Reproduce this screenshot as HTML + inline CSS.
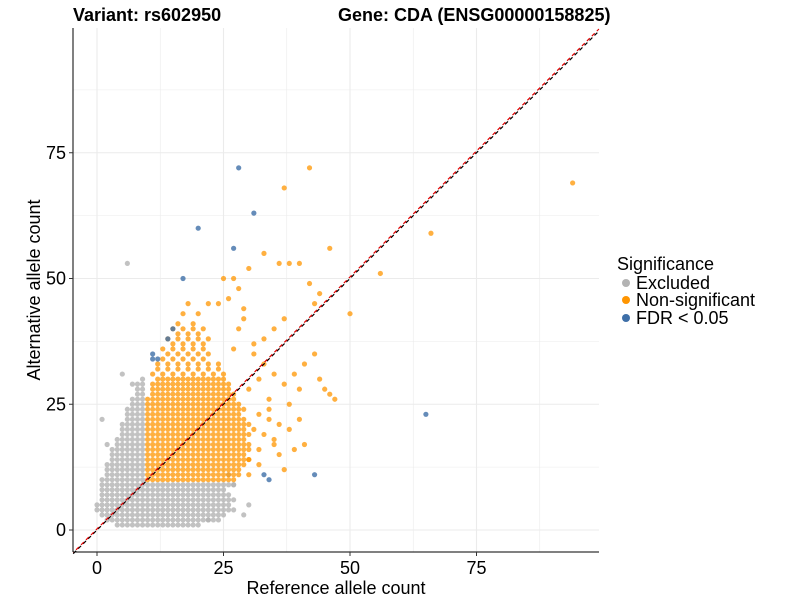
<!DOCTYPE html>
<html><head><meta charset="utf-8"><style>
body{margin:0;background:#fff;font-family:"Liberation Sans",Arial,sans-serif}
</style></head><body>
<svg id="c" width="800" height="600" style="font-family:'Liberation Sans',Arial,sans-serif">
<text x="73" y="21" font-size="18" font-weight="bold">Variant: rs602950</text>
<text x="338" y="21" font-size="18" font-weight="bold">Gene: CDA (ENSG00000158825)</text>
<g id="grid"></g>
<g id="pts"></g>
<g id="ax"></g>
<text x="336" y="594" font-size="18" text-anchor="middle">Reference allele count</text>
<text transform="translate(40,290) rotate(-90)" font-size="18" text-anchor="middle">Alternative allele count</text>
<g>
<text x="617" y="270" font-size="18">Significance</text>
<g><circle cx="626" cy="283" r="4" fill="#b3b3b3"/><text x="636" y="289" font-size="18">Excluded</text></g>
<g><circle cx="626" cy="300" r="4" fill="#ff9500"/><text x="636" y="306" font-size="18">Non-significant</text></g>
<g><circle cx="626" cy="318" r="4" fill="#3e6fa8"/><text x="636" y="324" font-size="18">FDR &lt; 0.05</text></g>
</g>
</svg>
<script>
const xTicks=[0,25,50,75];
const yTicks=[0,25,50,75];
// orange dense rows: alt value, ref lo, ref hi, step
const orangeAlt =[10,11,12,13,14,15,16,17,18,19,20,21,22,23,24,25,26,27,28,29,30,31,32,33,34,35,36,37,38,39,40,41,43,45];
const orangeLo  =[10,10,10,10,10,10,10,10,10,10,10,10,10,10,10,10,10,11,11,11,12,11,12,12,13,14,13,15,14,16,15,16,17,18];
const orangeHi  =[27,28,28,29,30,29,30,30,29,30,29,30,29,28,29,28,27,27,26,26,25,26,24,25,22,23,22,21,22,20,21,21,20,22];
const orangeStep=[1,1,1,1,1,1,1,1,1,1,1,1,1,1,1,1,1,1,1,1,1,2,2,2,2,2,2,2,2,2,2,3,3,4];
// grey dense rows
const greyAlt=[1,2,3,4,5,6,7,8,9,10,11,12,13,14,15,16,17,18,19,20,21,22,23,24,25,26,27,28,29,30];
const greyLo =[4,2,1,0,0,1,1,1,1,1,2,2,2,3,3,3,4,4,5,5,5,6,6,6,7,7,8,8,7,9];
const greyHi =[20,24,25,27,26,27,26,25,27,9,9,9,9,9,9,9,9,9,9,9,9,9,9,9,9,9,9,9,9,9];
// scattered points
const orangeX=[42,37,94,66,56,50,36,38,40,33,30,42,46,47,45,44,46,40,38,35,34,30,32,36,39,41,31,33,35,37,43,44,28,27,25,26,29,31,33,32,35,28,29,24,27,30,38,40,34,31,33,36,32,34,37,39,41,43,30,32,35,37];
const orangeY=[72,68,69,59,51,43,53,53,53,55,52,49,56,26,28,30,27,22,20,18,22,11,13,15,16,17,35,38,40,42,45,47,48,50,50,46,44,37,33,30,31,40,42,45,36,28,25,28,24,20,19,21,23,26,29,31,33,35,14,16,17,12];
const blueX=[28,31,20,27,17,15,14,11,11,12,65,43,33,34];
const blueY=[72,63,60,56,50,40,38,35,34,34,23,11,11,10];
const greyX=[6,30,29,1,2,5,27,26,22];
const greyY=[53,5,3,22,17,31,9,11,2];

const X=v=>97+v*5.06, Y=v=>530-v*5.03;
const NS="http://www.w3.org/2000/svg";
const g=document.getElementById('grid'),p=document.getElementById('pts'),ax=document.getElementById('ax');
function line(par,x1,y1,x2,y2,st,w,dash){const l=document.createElementNS(NS,'line');l.setAttribute('x1',x1);l.setAttribute('y1',y1);l.setAttribute('x2',x2);l.setAttribute('y2',y2);l.setAttribute('stroke',st);l.setAttribute('stroke-width',w);if(dash)l.setAttribute('stroke-dasharray',dash);par.appendChild(l);return l;}
[-12.5,0,12.5,25,37.5,50,62.5,75,87.5].forEach(v=>{
 if(X(v)>73&&X(v)<599){const l=line(g,X(v),28,X(v),552,'#ebebeb',v%25?0.6:1.1);}
 if(Y(v)>28&&Y(v)<552){const l=line(g,73,Y(v),599,Y(v),'#ebebeb',v%25?0.6:1.1);}
});
function dot(x,y,c,o){const e=document.createElementNS(NS,'circle');e.setAttribute('cx',X(x));e.setAttribute('cy',Y(y));e.setAttribute('r',2.6);e.setAttribute('fill',c);e.setAttribute('fill-opacity',o);


p.appendChild(e);}
greyAlt.forEach((a,i)=>{for(let r=greyLo[i];r<=greyHi[i];r++)dot(r,a,'#b3b3b3',0.8);});
greyX.forEach((x,i)=>dot(x,greyY[i],'#b3b3b3',0.8));
orangeAlt.forEach((a,i)=>{for(let r=orangeLo[i];r<=orangeHi[i];r+=orangeStep[i])dot(r,a,'#ff9500',0.75);});
orangeX.forEach((x,i)=>dot(x,orangeY[i],'#ff9500',0.75));
blueX.forEach((x,i)=>dot(x,blueY[i],'#3e6fa8',0.8));
const d1=line(ax,X(-4.7),Y(-4.7),X(99.2),Y(99.2),'#000',1.2,'4,3');


const d2=line(ax,X(-4.7),Y(-4.5),X(99.2),Y(99.6),'#e00000',1.2,'4,3');d2.setAttribute('stroke-dashoffset','3');


line(ax,73,28,73,552,'#000',1);line(ax,73,552,599,552,'#000',1);
xTicks.forEach(v=>{line(ax,X(v),552,X(v),556,'#333',1);const t=document.createElementNS(NS,'text');t.setAttribute('x',X(v));t.setAttribute('y',574);t.setAttribute('font-size','18');t.setAttribute('text-anchor','middle');t.setAttribute('fill','#000');t.textContent=v;


ax.appendChild(t);});
yTicks.forEach(v=>{line(ax,69,Y(v),73,Y(v),'#333',1);const t=document.createElementNS(NS,'text');t.setAttribute('x',66);t.setAttribute('y',Y(v)+6);t.setAttribute('font-size','18');t.setAttribute('text-anchor','end');t.setAttribute('fill','#000');t.textContent=v;


ax.appendChild(t);});
</script>
</body></html>
